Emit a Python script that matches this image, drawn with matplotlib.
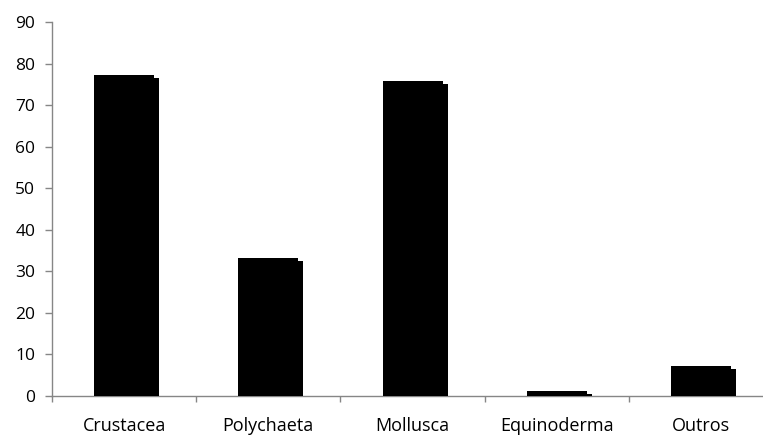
import matplotlib
matplotlib.use('Agg')
import matplotlib.pyplot as plt
import matplotlib.patheffects as pe

categories = ['Crustacea', 'Polychaeta', 'Mollusca', 'Equinoderma', 'Outros']
values = [77.2, 33.2, 75.9, 1.2, 7.2]
y_ticks = list(range(0, 91, 10))

plt.rcParams['font.family'] = ['Open Sans', 'DejaVu Sans']

fig = plt.figure(figsize=(7.63, 4.37), dpi=100)
ax = fig.add_axes([52 / 763, 41 / 437, 721 / 763, 374 / 437])

x = list(range(len(categories)))
bars = ax.bar(x, values, width=60 / 144.2, color='black', zorder=3)
# тень справа-снизу как в Excel
for b in bars:
    b.set_path_effects([pe.SimplePatchShadow(offset=(3.6, -2.2), shadow_rgbFace='black', alpha=1.0),
                        pe.Normal()])

ax.set_xlim(-0.5, len(categories) - 0.5)
ax.set_ylim(0, 90)
ax.set_yticks(y_ticks)

ax.set_xticks(x)
ax.set_xticklabels(categories)
ax.set_xticks([i + 0.5 for i in range(len(categories) - 1)] + [-0.5], minor=True)
ax.tick_params(axis='x', which='major', length=0, pad=15, labelsize=13)
ax.tick_params(axis='x', which='minor', length=4, width=1, color='#868686', direction='out')
ax.tick_params(axis='y', length=5, width=1, color='#868686', direction='out', labelsize=12.5, pad=7)

for side in ['top', 'right']:
    ax.spines[side].set_visible(False)
for side in ['left', 'bottom']:
    ax.spines[side].set_color('#868686')
    ax.spines[side].set_linewidth(1)

fig.savefig('out.png', dpi=100)
